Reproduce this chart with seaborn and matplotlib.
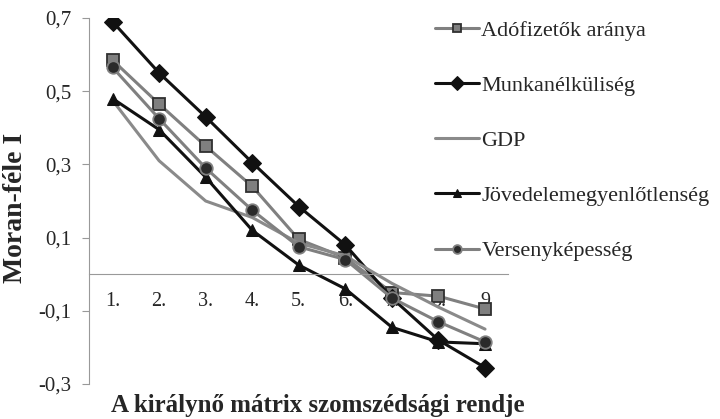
import numpy as np
import pandas as pd
import matplotlib
matplotlib.use("Agg")
import matplotlib.pyplot as plt
import seaborn as sns

# neighbourhood order of the queen contiguity matrix
orders = [1, 2, 3, 4, 5, 6, 7, 8, 9]
tick_labels = ["1.", "2.", "3.", "4.", "5.", "6.", "7.", "8.", "9"]

adofizetok = [0.585, 0.465, 0.35, 0.24, 0.095, 0.045, -0.05, -0.06, -0.095]
munkanelkuliseg = [0.69, 0.55, 0.43, 0.305, 0.185, 0.08, -0.065, -0.18, -0.255]
gdp = [0.475, 0.31, 0.20, 0.155, 0.085, 0.05, -0.025, -0.09, -0.15]
jovedelem = [0.48, 0.395, 0.265, 0.12, 0.025, -0.04, -0.145, -0.185, -0.19]
verseny = [0.565, 0.425, 0.29, 0.175, 0.075, 0.04, -0.065, -0.13, -0.185]

yticks = [0.7, 0.5, 0.3, 0.1, -0.1, -0.3]
ytick_labels = ["0,7", "0,5", "0,3", "0,1", "-0,1", "-0,3"]

sns.set_style("white")
plt.rcParams['font.family'] = ['Liberation Serif', 'DejaVu Serif']

fig = plt.figure(figsize=(7.2, 4.19), dpi=100)
ax = fig.add_axes([0.124, 0.0835, 0.582, 0.8735])

series = [
    ("Adófizetők aránya", adofizetok, dict(color="#808080", marker="s", markersize=8,
                                           markerfacecolor="#7f7f7f", markeredgecolor="#303030", markeredgewidth=1.3)),
    ("Munkanélküliség", munkanelkuliseg, dict(color="#111111", marker="D", markersize=9.5,
                                             markerfacecolor="#111111", markeredgecolor="#111111")),
    ("GDP", gdp, dict(color="#8a8a8a", marker=None)),
    ("Jövedelemegyenlőtlenség", jovedelem, dict(color="#111111", marker="^", markersize=9,
                                                markerfacecolor="#111111", markeredgecolor="#111111")),
    ("Versenyképesség", verseny, dict(color="#808080", marker="o", markersize=9,
                                      markerfacecolor="#2a2a2a", markeredgecolor="#808080", markeredgewidth=1.3)),
]

for name, vals, style in series:
    sns.lineplot(x=orders, y=vals, ax=ax, label=name, linewidth=2.2, **style)

ax.set_xlim(0.5, 9.5)
ax.set_ylim(-0.3, 0.7)

# category axis crossing at zero
ax.spines['bottom'].set_position(('data', 0))
ax.spines['top'].set_visible(False)
ax.spines['right'].set_visible(False)
ax.spines['left'].set_color("#999999")
ax.spines['bottom'].set_color("#999999")

ax.set_xticks(orders)
ax.set_xticklabels(tick_labels, fontsize=14.5)
ax.set_xticks(np.arange(1.5, 9.6, 1), minor=True)
ax.tick_params(axis='x', which='major', length=0, pad=13)
ax.tick_params(axis='x', which='minor', length=6, color="#999999", direction="out")

ax.set_yticks(yticks)
ax.set_yticklabels(ytick_labels, fontsize=15)
ax.tick_params(axis='y', length=5, color="#999999", direction="out", left=True, pad=8)

ax.set_ylabel("Moran-féle I", fontsize=20, fontweight="bold")
ax.yaxis.set_label_coords(-0.146, 0.481)
ax.set_xlabel("")
fig.text(0.442, 0.033, "A királynő mátrix szomszédsági rendje", fontsize=18,
         fontweight="bold", ha="center", va="center")

ax.legend(loc="upper left", bbox_to_anchor=(0.576, 1.0), bbox_transform=fig.transFigure,
          frameon=False, fontsize=16, labelspacing=1.56, handlelength=2.0,
          handletextpad=0.1, markerscale=0.7)

fig.savefig("out.png", dpi=100)
